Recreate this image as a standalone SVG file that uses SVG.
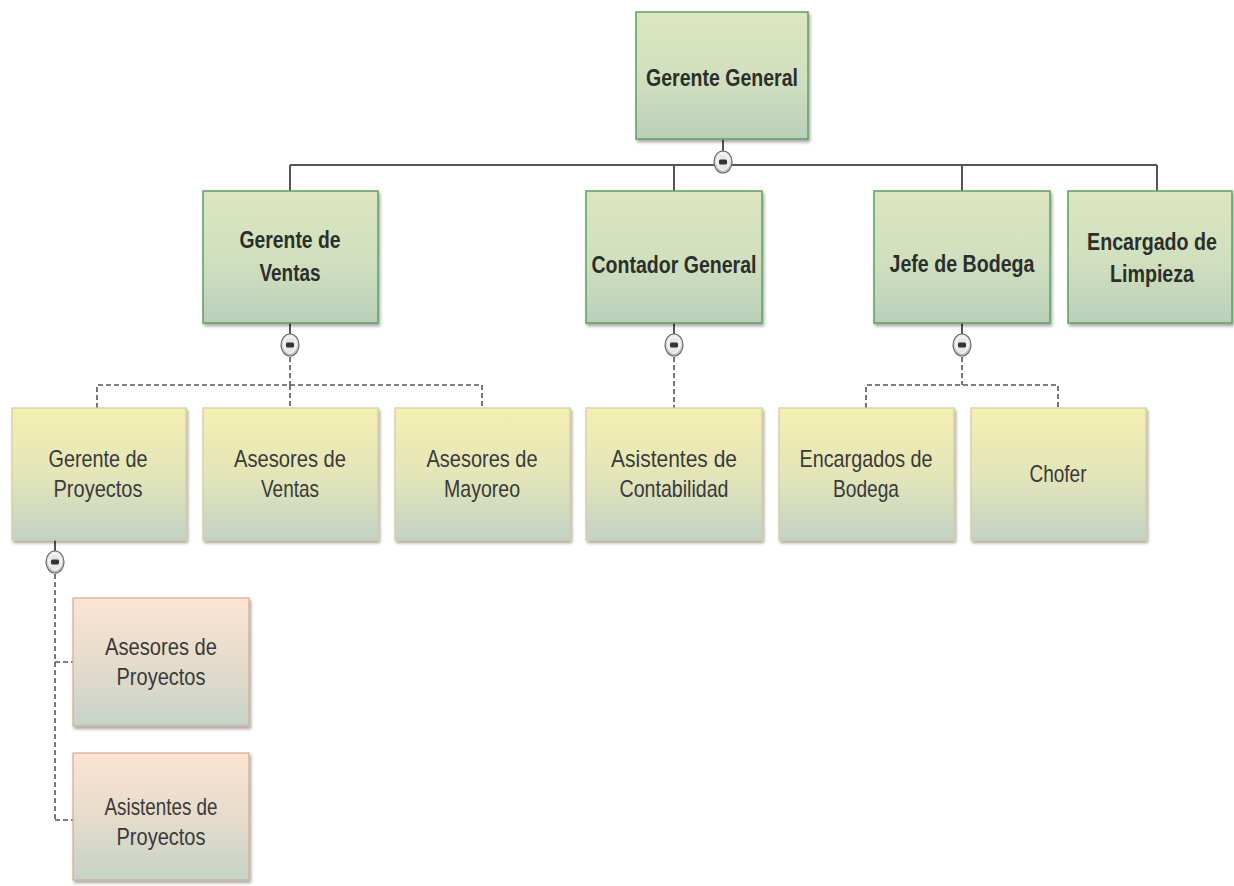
<svg xmlns="http://www.w3.org/2000/svg" xmlns:xlink="http://www.w3.org/1999/xlink" width="1234" height="886" viewBox="0 0 1234 886">
  <defs>
    <linearGradient id="gGreen" x1="0" y1="0" x2="0" y2="1">
      <stop offset="0" stop-color="#dce6c0"/>
      <stop offset="0.55" stop-color="#d0dfbe"/>
      <stop offset="1" stop-color="#b9cfba"/>
    </linearGradient>
    <linearGradient id="gYellow" x1="0" y1="0" x2="0" y2="1">
      <stop offset="0" stop-color="#f4efb2"/>
      <stop offset="0.5" stop-color="#e4e6b8"/>
      <stop offset="1" stop-color="#c3d2c4"/>
    </linearGradient>
    <linearGradient id="gPink" x1="0" y1="0" x2="0" y2="1">
      <stop offset="0" stop-color="#fce4d2"/>
      <stop offset="0.5" stop-color="#e6dccb"/>
      <stop offset="1" stop-color="#c5d3c8"/>
    </linearGradient>
    <linearGradient id="gBubble" x1="0" y1="0" x2="0" y2="1">
      <stop offset="0" stop-color="#f4f4f4"/>
      <stop offset="1" stop-color="#b8b8b8"/>
    </linearGradient>
    <filter id="shadow" x="-10%" y="-10%" width="125%" height="130%">
      <feDropShadow dx="1.5" dy="2.5" stdDeviation="1.5" flood-color="#000" flood-opacity="0.35"/>
    </filter>
    <g id="bubble">
      <ellipse cx="0" cy="0" rx="9" ry="11" fill="url(#gBubble)" stroke="#6a6a6a" stroke-width="1.2"/>
      <ellipse cx="0" cy="0" rx="6.3" ry="8.2" fill="#e8e8e8" stroke="#ffffff" stroke-width="1"/>
      <rect x="-4" y="-2.5" width="8" height="5" rx="1.5" fill="#333"/>
    </g>
  </defs>
  <style>
    .box-main { fill: url(#gGreen); stroke: #5f9f62; stroke-width: 1.5; filter: url(#shadow); }
    .box-sub { fill: url(#gYellow); stroke: #d6cc9c; stroke-width: 1.2; filter: url(#shadow); }
    .box-leaf { fill: url(#gPink); stroke: #dca78f; stroke-width: 1.2; filter: url(#shadow); }
    .t-bold { font-family: "Liberation Sans", Arial, sans-serif; font-weight: bold; font-size: 23px; fill: #2b2f2b; text-anchor: middle; }
    .t-reg { font-family: "Liberation Sans Narrow", "Liberation Sans", Arial, sans-serif; font-size: 24px; fill: #3a3a3a; text-anchor: middle; }
    .solid { fill: none; stroke: #555; stroke-width: 2; }
    .dash { fill: none; stroke: #555; stroke-width: 1.6; stroke-dasharray: 5 3; }
  </style>

  <rect width="1234" height="886" fill="#ffffff"/>

  <!-- connectors -->
  <g id="connectors">
    <path class="solid" d="M723 140 V152"/>
    <path class="solid" d="M290 165 H1157 M290 165 V191 M674 165 V191 M962 165 V191 M1157 165 V191"/>
    <path class="solid" d="M290 323 V334 M674 323 V334 M962 323 V334 M55 540 V551"/>
    <path class="dash" d="M290 357 V385 M97 408 V385 H482 V408 M290 385 V408"/>
    <path class="dash" d="M674 357 V408"/>
    <path class="dash" d="M962 357 V385 M866 408 V385 H1058 V408"/>
    <path class="dash" d="M55 574 V820 M55 662 H73 M55 820 H73"/>
    <use href="#bubble" x="723" y="162"/>
    <use href="#bubble" x="290" y="345"/>
    <use href="#bubble" x="674" y="345"/>
    <use href="#bubble" x="962" y="345"/>
    <use href="#bubble" x="55" y="562"/>
  </g>

  <!-- level 1 -->
  <g id="gerente-general">
    <rect class="box-main" x="636" y="12" width="172" height="127"/>
    <text class="t-bold" x="722" y="86" textLength="152" lengthAdjust="spacingAndGlyphs">Gerente General</text>
  </g>

  <!-- level 2 -->
  <g id="gerente-ventas">
    <rect class="box-main" x="203" y="191" width="175" height="132"/>
    <text class="t-bold" x="290" y="248" textLength="101" lengthAdjust="spacingAndGlyphs">Gerente de</text>
    <text class="t-bold" x="290" y="281" textLength="61" lengthAdjust="spacingAndGlyphs">Ventas</text>
  </g>
  <g id="contador-general">
    <rect class="box-main" x="586" y="191" width="176" height="132"/>
    <text class="t-bold" x="674" y="273" textLength="165" lengthAdjust="spacingAndGlyphs">Contador General</text>
  </g>
  <g id="jefe-bodega">
    <rect class="box-main" x="874" y="191" width="176" height="132"/>
    <text class="t-bold" x="962" y="272" textLength="145" lengthAdjust="spacingAndGlyphs">Jefe de Bodega</text>
  </g>
  <g id="encargado-limpieza">
    <rect class="box-main" x="1068" y="191" width="164" height="132"/>
    <!-- narrowed by a horizontal scale so the label sits well inside the box -->
    <g transform="translate(1152 0) scale(0.855 1)">
      <text class="t-bold" x="0" y="250">Encargado de</text>
      <text class="t-bold" x="0" y="282">Limpieza</text>
    </g>
  </g>

  <!-- level 3 -->
  <g id="gerente-proyectos">
    <rect class="box-sub" x="12" y="408" width="174" height="132"/>
    <text class="t-reg" x="98" y="467" textLength="99" lengthAdjust="spacingAndGlyphs">Gerente de</text>
    <text class="t-reg" x="98" y="497" textLength="89" lengthAdjust="spacingAndGlyphs">Proyectos</text>
  </g>
  <g id="asesores-ventas">
    <rect class="box-sub" x="203" y="408" width="175" height="132"/>
    <text class="t-reg" x="290" y="467" textLength="112" lengthAdjust="spacingAndGlyphs">Asesores de</text>
    <text class="t-reg" x="290" y="497" textLength="58" lengthAdjust="spacingAndGlyphs">Ventas</text>
  </g>
  <g id="asesores-mayoreo">
    <rect class="box-sub" x="395" y="408" width="175" height="132"/>
    <text class="t-reg" x="482" y="467" textLength="111" lengthAdjust="spacingAndGlyphs">Asesores de</text>
    <text class="t-reg" x="482" y="497" textLength="76" lengthAdjust="spacingAndGlyphs">Mayoreo</text>
  </g>
  <g id="asistentes-contabilidad">
    <rect class="box-sub" x="586" y="408" width="176" height="132"/>
    <text class="t-reg" x="674" y="467" textLength="126" lengthAdjust="spacingAndGlyphs">Asistentes de</text>
    <text class="t-reg" x="674" y="497" textLength="109" lengthAdjust="spacingAndGlyphs">Contabilidad</text>
  </g>
  <g id="encargados-bodega">
    <rect class="box-sub" x="779" y="408" width="175" height="132"/>
    <text class="t-reg" x="866" y="467" textLength="133" lengthAdjust="spacingAndGlyphs">Encargados de</text>
    <text class="t-reg" x="866" y="497" textLength="66" lengthAdjust="spacingAndGlyphs">Bodega</text>
  </g>
  <g id="chofer">
    <rect class="box-sub" x="971" y="408" width="175" height="132"/>
    <text class="t-reg" x="1058" y="482" textLength="57" lengthAdjust="spacingAndGlyphs">Chofer</text>
  </g>

  <!-- level 4 -->
  <g id="asesores-proyectos">
    <rect class="box-leaf" x="73" y="598" width="176" height="128"/>
    <text class="t-reg" x="161" y="655" textLength="112" lengthAdjust="spacingAndGlyphs">Asesores de</text>
    <text class="t-reg" x="161" y="685" textLength="89" lengthAdjust="spacingAndGlyphs">Proyectos</text>
  </g>
  <g id="asistentes-proyectos">
    <rect class="box-leaf" x="73" y="753" width="176" height="127"/>
    <text class="t-reg" x="161" y="815" textLength="113" lengthAdjust="spacingAndGlyphs">Asistentes de</text>
    <text class="t-reg" x="161" y="845" textLength="89" lengthAdjust="spacingAndGlyphs">Proyectos</text>
  </g>
</svg>
